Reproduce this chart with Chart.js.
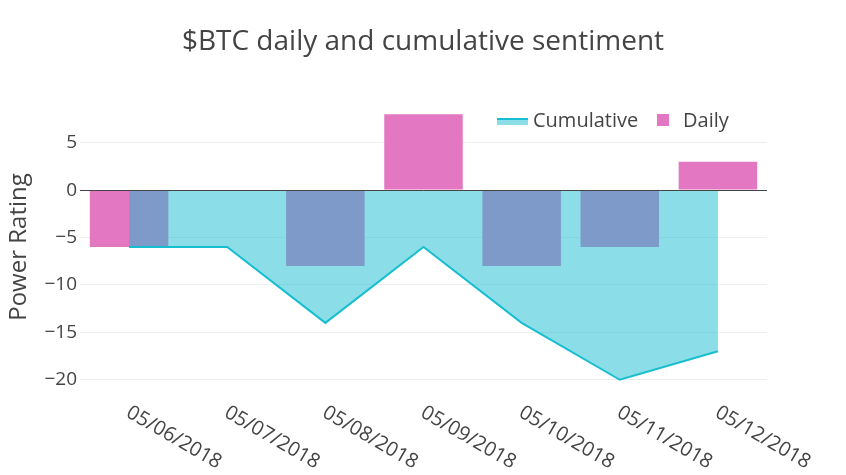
<!DOCTYPE html>
<html>
<head>
<meta charset="utf-8">
<script src="https://cdn.jsdelivr.net/npm/chart.js@4"></script>
<style>
  html, body { margin: 0; padding: 0; background: #fff; }
  canvas { display: block; }
</style>
</head>
<body>
<canvas id="c" width="846" height="475"></canvas>
<script>
const categories = ['05/06/2018', '05/07/2018', '05/08/2018', '05/09/2018', '05/10/2018', '05/11/2018', '05/12/2018'];
const daily = [-6, 0, -8, 8, -8, -6, 3];
const cumulative = [-6, -6, -14, -6, -14, -20, -17];
const yTicks = [5, 0, -5, -10, -15, -20];
const chartTitle = '$BTC daily and cumulative sentiment';

const FONT = "'Open Sans', sans-serif";
const TEXT = '#444444';

const extras = {
  id: 'extras',
  afterDatasetsDraw(chart) {
    const ctx = chart.ctx, a = chart.chartArea, y = chart.scales.y;
    const y0 = Math.round(y.getPixelForValue(0)) + 0.5;
    ctx.save();
    ctx.strokeStyle = '#444444';
    ctx.lineWidth = 1;
    ctx.beginPath();
    ctx.moveTo(a.left, y0);
    ctx.lineTo(a.right, y0);
    ctx.stroke();
    ctx.restore();
  },
  afterDraw(chart) {
    const ctx = chart.ctx, x = chart.scales.x, a = chart.chartArea;
    ctx.save();
    // title
    ctx.fillStyle = TEXT;
    ctx.font = "28px " + FONT;
    ctx.textAlign = 'center';
    ctx.textBaseline = 'alphabetic';
    ctx.fillText(chartTitle, chart.width / 2, 50);
    // rotated x tick labels
    ctx.font = "20px " + FONT;
    ctx.textAlign = 'left';
    categories.forEach((lab, i) => {
      const px = x.getPixelForValue(i);
      ctx.save();
      ctx.translate(px - 4, a.bottom + 22);
      ctx.rotate(Math.PI / 6);
      ctx.fillText(lab, 0, 0);
      ctx.restore();
    });
    // legend
    const dsL = chart.data.datasets[0], dsB = chart.data.datasets[1];
    const ly = 120;
    ctx.fillStyle = dsL.backgroundColor;
    ctx.fillRect(497, ly - 2, 31, 7);
    ctx.strokeStyle = dsL.borderColor;
    ctx.lineWidth = 2;
    ctx.beginPath();
    ctx.moveTo(497, ly - 1);
    ctx.lineTo(528, ly - 1);
    ctx.stroke();
    ctx.fillStyle = TEXT;
    ctx.font = "20px " + FONT;
    ctx.fillText(dsL.label, 533, ly + 7);
    ctx.fillStyle = dsB.backgroundColor;
    ctx.fillRect(657, ly - 6, 12, 12);
    ctx.fillStyle = TEXT;
    ctx.fillText(dsB.label, 683, ly + 7);
    ctx.restore();
  }
};

new Chart(document.getElementById('c'), {
  type: 'bar',
  data: {
    labels: categories,
    datasets: [
      {
        type: 'line',
        label: 'Cumulative',
        data: cumulative,
        borderColor: '#17becf',
        backgroundColor: 'rgba(23,190,207,0.5)',
        fill: 'origin',
        borderWidth: 2,
        pointRadius: 0,
        tension: 0,
        order: 0
      },
      {
        type: 'bar',
        label: 'Daily',
        data: daily,
        backgroundColor: '#e377c2',
        categoryPercentage: 0.8,
        barPercentage: 1,
        order: 1
      }
    ]
  },
  options: {
    responsive: false,
    animation: false,
    devicePixelRatio: 1,
    layout: { padding: { left: 0, right: 79, top: 100, bottom: 81 } },
    plugins: {
      legend: { display: false },
      tooltip: { enabled: false },
      title: { display: false }
    },
    scales: {
      x: {
        offset: true,
        grid: { display: false },
        border: { display: false },
        ticks: { display: false },
        afterFit(s) { s.height = 0; }
      },
      y: {
        min: -21.5,
        max: 9.5,
        afterBuildTicks(s) { s.ticks = yTicks.map(v => ({ value: v })); },
        afterFit(s) { s.width = 80; },
        border: { display: false },
        grid: {
          drawTicks: false,
          lineWidth: 1,
          color: (c) => (c.tick && c.tick.value === 0) ? 'rgba(0,0,0,0)' : '#eeeeee'
        },
        ticks: {
          color: TEXT,
          padding: 3,
          font: { family: FONT, size: 19 },
          callback: (v) => v < 0 ? '\u2212' + Math.abs(v) : String(v)
        },
        title: {
          display: true,
          text: 'Power Rating',
          color: TEXT,
          font: { family: FONT, size: 24 },
          padding: { top: 5, bottom: 0 }
        }
      }
    }
  },
  plugins: [extras]
});
</script>
</body>
</html>
